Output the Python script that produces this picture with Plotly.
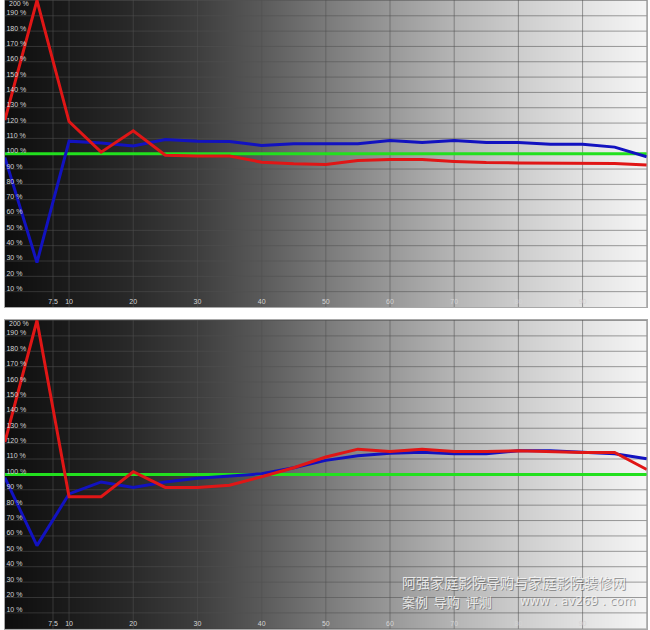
import plotly.graph_objs as go

# Точки измерения (% стимула) и ось Y
levels = [0, 5, 10, 15, 20, 25, 30, 35, 40, 45, 50, 55, 60, 65, 70, 75, 80, 85, 90, 95, 100]
x_ticks = [7.5, 10, 20, 30, 40, 50, 60, 70, 80, 90]
x_ticklabels = ['7.5', '10', '20', '30', '40', '50', '60', '70', '80', '90']
y_ticks = list(range(10, 210, 10))
y_ticklabels = [str(v) + ' %' for v in y_ticks]

# Top panel
top_red = [122, 200, 121, 101, 115, 99, 98.5, 98.5, 94.5, 93.5, 93, 95.5, 96.3, 96.2, 95,
           94.2, 94, 94, 94, 93.6, 92.7]
top_blue = [97.5, 29, 108.2, 107, 105, 109.3, 108.2, 108, 105.4, 106.5, 106.5, 106.5, 108.6,
            107.3, 108.6, 107.3, 107.3, 106.2, 106.2, 104.3, 98]
top_green = [100] * len(levels)

# Bottom panel
bot_red = [121, 200, 85.5, 85.5, 101.7, 91.5, 91.5, 93, 98.5, 104.3, 111.3, 116.4, 114.8,
           116.4, 114.8, 114.8, 115.3, 114.8, 114.2, 114.2, 103.2]
bot_blue = [97.9, 53.7, 87.3, 95.1, 91.5, 95, 97.5, 99, 100.4, 104.3, 109.1, 112.1, 113.8,
            114.4, 113.4, 113.4, 115.3, 115.3, 114.2, 113.4, 110.2]
bot_green = [100] * len(levels)

# Серый градиент фона (уровень серого по X)
grad_x = [-5, 0, 10, 20, 30, 40, 50, 60, 70, 80, 90, 100, 105]
grad_gray = [14, 14, 27, 42, 62, 90, 122, 152, 181, 205, 226, 245, 248]

grid_col = 'rgba(80,80,80,0.55)'
tick_font = dict(size=7, color='#d4d4d4', family='Liberation Sans, Arial')


def grid_lines(xa, ya):
    # сетка рисуется отдельной линией поверх фона
    gx, gy = [], []
    for t in y_ticks:
        gx += [0, 100, None]
        gy += [t, t, None]
    for t in x_ticks:
        gx += [t, t, None]
        gy += [-10, 210, None]
    return go.Scatter(x=gx, y=gy, mode='lines', line=dict(color=grid_col, width=1),
                      hoverinfo='skip', xaxis=xa, yaxis=ya, showlegend=False)


def panel(xa, ya, red, blue, green):
    traces = [
        go.Heatmap(x=grad_x, y=[-50, 250], z=[grad_gray, grad_gray],
                   colorscale=[[0, 'black'], [1, 'white']], zmin=0, zmax=255,
                   zsmooth='best', showscale=False, hoverinfo='skip',
                   xaxis=xa, yaxis=ya),
        grid_lines(xa, ya),
        go.Scatter(x=levels, y=green, mode='lines', line=dict(color='#22e01e', width=3),
                   xaxis=xa, yaxis=ya, showlegend=False),
        go.Scatter(x=levels, y=blue, mode='lines', line=dict(color='#1212c0', width=3),
                   xaxis=xa, yaxis=ya, showlegend=False),
        go.Scatter(x=levels, y=red, mode='lines', line=dict(color='#e01616', width=3),
                   xaxis=xa, yaxis=ya, showlegend=False),
    ]
    return traces


data = panel('x', 'y', top_red, top_blue, top_green) + \
       panel('x2', 'y2', bot_red, bot_blue, bot_green)

xaxis_common = dict(domain=[0.0075, 0.995], range=[0, 100], tickvals=x_ticks,
                    ticktext=x_ticklabels, ticklabelposition='inside', ticks='',
                    showgrid=False, zeroline=False,
                    showline=True, mirror=True, linecolor='#a8a8a8', linewidth=1,
                    tickfont=tick_font, layer='above traces')
yaxis_common = dict(tickvals=y_ticks, ticktext=y_ticklabels, ticklabelposition='inside',
                    ticklabelshift=-3, ticks='', showgrid=False,
                    zeroline=False, showline=True, mirror=True, linecolor='#a8a8a8',
                    linewidth=1, tickfont=tick_font, layer='above traces')

layout = go.Layout(
    width=650, height=630, autosize=False,
    margin=dict(l=0, r=0, t=0, b=0),
    paper_bgcolor='white', plot_bgcolor='black',
    showlegend=False,
    xaxis=dict(anchor='y', **xaxis_common),
    yaxis=dict(anchor='x', domain=[0.512, 1], range=[-0.3, 200.3], **yaxis_common),
    xaxis2=dict(anchor='y2', **xaxis_common),
    yaxis2=dict(anchor='x2', domain=[0.002, 0.492], range=[-0.3, 200.3], **yaxis_common),
)

fig = go.Figure(data=data, layout=layout)

# верхняя подпись 200 % (plotly прячет её у края)
for ya in ['y', 'y2']:
    fig.add_annotation(text=y_ticklabels[-1], xref='x' if ya == 'y' else 'x2', yref=ya,
                       x=0, y=200, xanchor='left', yanchor='middle', xshift=2, yshift=-3,
                       showarrow=False, font=tick_font)

# Водяной знак сайта: серая тень + светлый текст
wm_lines = [
    ('阿强家庭影院导购与家庭影院装修网', 400, 582, 14, 'Noto Sans CJK SC'),
    ('案例  导购  评测', 400, 601, 13, 'Noto Sans CJK SC'),
    ('www . av269 . com', 518, 601, 12, 'DejaVu Sans'),
]
for shadow, col in [(1, 'rgba(80,80,80,0.55)'), (0, 'rgba(245,245,245,0.85)')]:
    for txt, px, py, size, fam in wm_lines:
        fig.add_annotation(text=txt, xref='paper', yref='paper',
                           x=px / 650, y=1 - py / 630, xanchor='left', yanchor='middle',
                           xshift=shadow, yshift=-shadow, showarrow=False,
                           font=dict(size=size, color=col, family=fam))

fig.write_html("out.html", config={'displayModeBar': False},
               post_script="document.body.style.margin='0';")
